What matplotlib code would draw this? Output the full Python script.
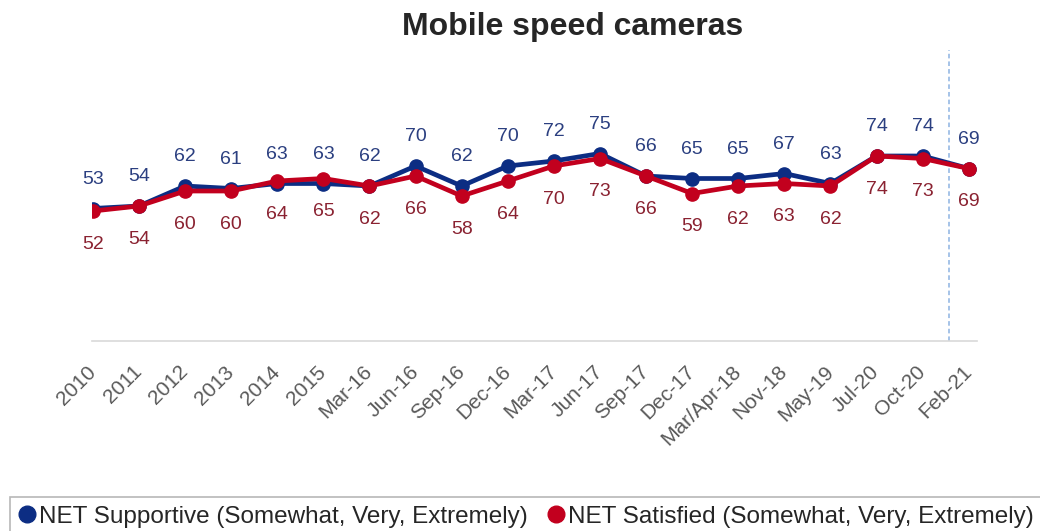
import matplotlib
matplotlib.use("Agg")
import matplotlib.pyplot as plt
from matplotlib.lines import Line2D

categories = ["2010", "2011", "2012", "2013", "2014", "2015", "Mar-16", "Jun-16",
              "Sep-16", "Dec-16", "Mar-17", "Jun-17", "Sep-17", "Dec-17",
              "Mar/Apr-18", "Nov-18", "May-19", "Jul-20", "Oct-20", "Feb-21"]
supportive = [53, 54, 62, 61, 63, 63, 62, 70, 62, 70, 72, 75, 66, 65, 65, 67, 63, 74, 74, 69]
satisfied = [52, 54, 60, 60, 64, 65, 62, 66, 58, 64, 70, 73, 66, 59, 62, 63, 62, 74, 73, 69]
series_names = ["NET Supportive (Somewhat, Very, Extremely)",
                "NET Satisfied (Somewhat, Very, Extremely)"]
title = "Mobile speed cameras"
divider_pos = 18.57

plt.rcParams['font.family'] = ['Liberation Sans', 'DejaVu Sans']

W, H = 1040, 531
fig = plt.figure(figsize=(W / 100, H / 100), dpi=100)
left, right, bottom, top = 92, 977, 341, 50
ax = fig.add_axes([left / W, (H - bottom) / H, (right - left) / W, (bottom - top) / H])

blue = "#0C2D83"
red = "#C2001E"
blue_txt = "#2B3F80"
red_txt = "#8A2231"

x = list(range(len(categories)))
ax.plot(x, supportive, color=blue, lw=3.4, marker="o", ms=9.5, zorder=3)
ax.plot(x, satisfied, color=red, lw=3.4, marker="o", ms=9.5, zorder=4)

for xi, v in zip(x, supportive):
    ax.annotate(str(v), (xi, v), xytext=(0, 21), textcoords="offset points",
                ha="center", va="center", fontsize=14, color=blue_txt)
for xi, v in zip(x, satisfied):
    ax.annotate(str(v), (xi, v), xytext=(0, -24), textcoords="offset points",
                ha="center", va="center", fontsize=14, color=red_txt)

ax.axvline(divider_pos, color="#8DB3E2", lw=1.1, ls=(0, (3, 2)), zorder=1)

ax.set_xlim(-0.02, 19.18)
ax.set_ylim(0, 116.4)
ax.set_yticks([])
ax.set_xticks(x)
ax.set_xticklabels(categories, rotation=45, ha="right", va="center",
                   rotation_mode="anchor", fontsize=15, color="#595959")
ax.tick_params(axis="x", length=0, pad=20)
for s in ["top", "right", "left"]:
    ax.spines[s].set_visible(False)
ax.spines["bottom"].set_color("#D9D9D9")
ax.spines["bottom"].set_linewidth(1.2)

fig.text(573 / W, 1 - 27 / H, title, ha="center", va="center",
         fontsize=23, fontweight="bold", color="#262626")

handles = [Line2D([], [], color=blue, marker="o", ls="none", ms=12),
           Line2D([], [], color=red, marker="o", ls="none", ms=12)]
leg = fig.legend(handles, series_names, loc="upper left",
                 bbox_to_anchor=(10 / W, 1 - 497 / H), ncol=2, fontsize=17.5,
                 frameon=True, fancybox=False, handletextpad=0.15,
                 columnspacing=0.8, handlelength=0.7, borderpad=0.35,
                 borderaxespad=0)
leg.get_frame().set_edgecolor("#A6A6A6")
leg.get_frame().set_linewidth(1.2)
for t in leg.get_texts():
    t.set_color("#262626")

fig.savefig("out.png", dpi=100)
